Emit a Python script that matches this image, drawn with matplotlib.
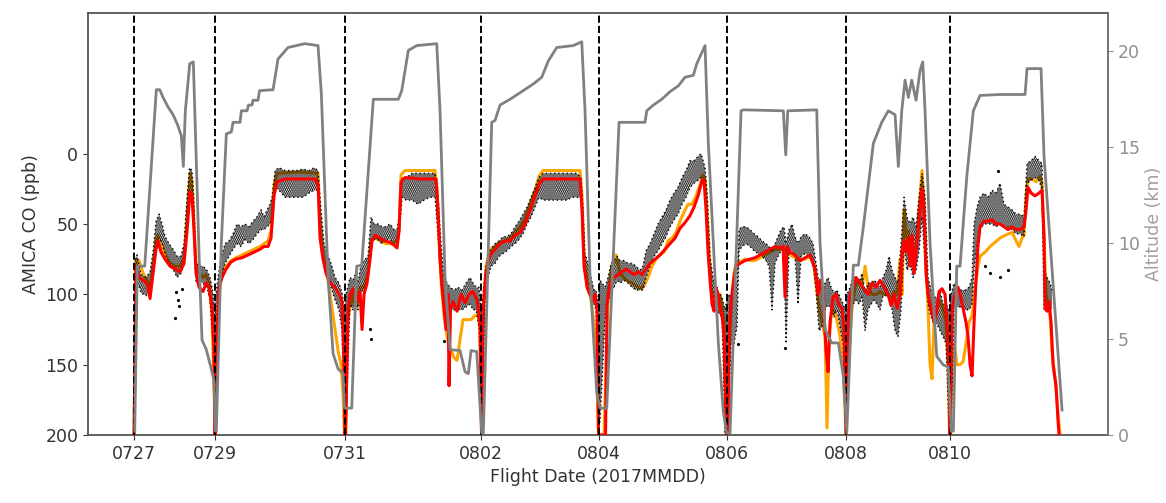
import numpy as np
import matplotlib
matplotlib.use('Agg')
import matplotlib.pyplot as plt

plt.rcParams['font.family'] = ['DejaVu Sans']
plt.rcParams['font.size'] = 12.5
plt.rcParams['hatch.linewidth'] = 1.2

# flight start positions on the x axis (sample index) and their labels
flight_pos = [134, 215, 345, 481, 599, 727, 846, 950]
flight_lab = ['0727', '0729', '0731', '0802', '0804', '0806', '0808', '0810']

# aircraft altitude (km)
alt = [
    (134.7, 0.2), (137.3, 8.8), (144.7, 8.8), (156.3, 18.0), (159.7, 18.0), (163, 17.6), (168, 17.1),
    (173, 16.7), (177.3, 16.2), (181.3, 15.6), (183.3, 14.0), (185.3, 16.9), (189.7, 19.35), (193.3, 19.45),
    (195.3, 16.0), (199.7, 8.25), (202, 4.95), (206.3, 4.45), (210.7, 3.55), (214, 2.85), (215.3, 0.2),
    (216.3, 0.2), (221.3, 10.0), (226.3, 15.7), (231.3, 15.8), (233, 16.3), (240, 16.3), (241.3, 16.9),
    (247, 16.9), (248.5, 17.2), (252, 17.2), (253, 17.45), (258, 17.45), (259.5, 17.95), (273, 18.0),
    (278, 19.6), (288, 20.2), (304.7, 20.4), (318, 20.3), (321.3, 17.8), (328, 8.25), (333, 4.25),
    (338, 3.45), (343, 3.2), (344.5, 1.4),
    (351.7, 1.4), (356.7, 8.8), (361.7, 8.85), (373.3, 17.5), (398.3, 17.5), (401.7, 17.95), (408.3, 20.05),
    (416.7, 20.3), (436.7, 20.4), (440, 16.9), (445, 8.25), (450, 4.45), (460, 4.4), (465, 3.3),
    (468.3, 3.2), (471, 4.4), (476.7, 4.35), (481.7, 0.1),
    (483.3, 0.1), (491.7, 16.3), (495, 16.4), (500, 17.2), (510, 17.5), (521.7, 17.9), (533.3, 18.3),
    (541.7, 18.65), (548.3, 19.5), (556.7, 20.2), (573.3, 20.3), (581.7, 20.5), (585, 16.9), (590, 8.25),
    (596.7, 2.2), (600, 1.4),
    (606.7, 1.4), (619, 16.3), (645, 16.3), (646.7, 16.9), (653.3, 17.2), (661.7, 17.5), (670, 17.9),
    (678.3, 18.2), (685, 18.65), (693.3, 18.75), (696.7, 19.35), (705, 20.3), (708.3, 15.2), (713.3, 10.0),
    (718.3, 4.8), (723.3, 1.2), (726.7, 0.1),
    (730, 0.1), (741, 16.9), (743.3, 16.95), (783.3, 16.9), (785.7, 14.6), (787.7, 16.9), (816.7, 16.95),
    (820, 10.0), (825, 5.5), (831.7, 4.8), (838.3, 4.8), (843.3, 3.05), (846.7, 0.1),
    (853.3, 8.85), (858.3, 8.85), (863.3, 10.85), (873.3, 15.2), (881.7, 16.3), (888.3, 16.9), (895, 16.7),
    (898.3, 14.0), (901.7, 16.9), (905, 18.5), (908.3, 17.6), (911.7, 18.5), (916, 17.45), (920, 19.0),
    (922.7, 19.45), (925, 16.9), (930, 10.0), (936.7, 4.1), (943.3, 3.65), (948.3, 3.55), (951, 0.2),
    (953.3, 0.2), (956.7, 8.8), (960, 8.8), (966.7, 13.45), (973.3, 16.9), (980, 17.7), (1000, 17.75),
    (1025, 17.75), (1027, 19.1), (1041, 19.1), (1044, 14.5), (1062, 1.3),
]

# AMICA CO observations: lower / upper edge of the scatter cloud (ppb)
obs = [
    (134.7, 75, 195), (137, 72, 90), (141, 86, 99), (146, 88, 101), (150, 84, 97), (153, 70, 84),
    (156, 48, 64), (159, 43, 60), (162, 50, 64), (165, 59, 71), (169, 64, 78), (173, 68, 82),
    (177, 73, 88), (181, 73, 85), (184, 64, 78), (187, 31, 52), (189.5, 10, 26), (192, 12, 31),
    (194, 36, 59), (196, 78, 92), (199, 80, 90), (203, 80, 92), (207, 83, 95), (210, 88, 104),
    (213, 99, 135), (214.5, 111, 196),
    (216, 100, 190), (218, 88, 111), (221, 74, 88), (225, 64, 78), (229, 62, 73), (233, 57, 68),
    (237, 50, 64), (241, 52, 66), (245, 50, 61), (249, 52, 64), (253, 48, 61), (257, 45, 57),
    (261, 40, 54), (264, 45, 54), (267, 40, 52), (270, 36, 50), (272, 31, 45), (275, 12, 24),
    (279, 10, 26), (285, 12, 31), (291, 12, 31), (297, 12, 31), (303, 11, 31), (309, 12, 28),
    (314, 10, 26), (318, 12, 26), (321, 40, 68), (324, 64, 78), (327, 71, 85), (331, 78, 95),
    (335, 88, 104), (339, 92, 111), (342, 99, 126), (344.5, 111, 196),
    (346, 100, 190), (350, 88, 107), (353, 90, 111), (356, 84, 104), (358, 92, 111), (361, 78, 97),
    (364, 76, 99), (368, 73, 88), (371, 45, 64), (374, 50, 61), (378, 50, 61), (382, 52, 64),
    (386, 52, 61), (390, 50, 61), (394, 54, 64), (397, 54, 64), (399, 45, 59), (402, 17, 31),
    (406, 17, 33), (412, 14, 33), (418, 14, 36), (424, 14, 33), (430, 14, 31), (435, 14, 31),
    (438, 31, 59), (441, 64, 92), (444, 88, 107), (447, 92, 111), (450, 95, 111), (454, 97, 111),
    (458, 95, 111), (462, 97, 111), (466, 92, 109), (470, 88, 107), (473, 92, 111), (476, 95, 111),
    (479, 95, 123), (481, 111, 196),
    (482, 110, 196), (485, 84, 107), (488, 73, 88), (491, 68, 80), (495, 64, 78), (499, 62, 73),
    (503, 59, 71), (507, 59, 69), (511, 57, 66), (515, 52, 64), (519, 48, 61), (523, 43, 57),
    (527, 38, 50), (531, 31, 45), (535, 24, 38), (539, 17, 31), (543, 14, 33), (549, 14, 33),
    (555, 14, 33), (561, 14, 33), (567, 14, 33), (572, 14, 31), (577, 14, 31), (581, 17, 31),
    (583, 40, 69), (585, 71, 88), (588, 78, 99), (591, 88, 101), (594, 97, 107), (596, 97, 111),
    (598, 107, 196),
    (600, 90, 190), (605, 95, 118), (608, 88, 107), (611, 78, 97), (614, 76, 95), (617, 73, 90),
    (620, 76, 92), (624, 76, 90), (628, 78, 92), (632, 78, 95), (636, 80, 97), (640, 83, 97),
    (643, 80, 97), (646, 69, 88), (650, 64, 80), (654, 57, 73), (658, 50, 69), (662, 45, 64),
    (666, 40, 59), (670, 33, 52), (674, 28, 47), (678, 24, 43), (682, 17, 36), (686, 12, 31),
    (690, 5, 24), (694, 5, 21), (698, 2, 19), (701, 0, 17), (703, 5, 21), (705, 10, 24),
    (707, 28, 52), (710, 73, 88), (713, 88, 101), (716, 97, 111), (719, 99, 114), (722, 102, 116),
    (725, 111, 199),
    (728, 100, 190), (731, 102, 135), (734, 92, 135), (737, 92, 123), (739, 54, 69), (742, 52, 66),
    (746, 52, 64), (750, 54, 66), (754, 57, 69), (758, 59, 71), (762, 62, 73), (766, 64, 76),
    (769, 66, 80), (772, 69, 111), (775, 64, 78), (778, 59, 73), (781, 54, 69), (784, 52, 69),
    (786, 64, 135), (789, 54, 69), (792, 50, 69), (795, 59, 73), (798, 64, 107), (801, 59, 73),
    (805, 57, 71), (809, 59, 73), (813, 64, 78), (816, 78, 97), (819, 92, 126), (822, 99, 123),
    (825, 92, 111), (828, 88, 107), (831, 95, 111), (834, 99, 116), (837, 97, 111), (840, 102, 123),
    (843, 107, 135), (845.5, 111, 199),
    (847, 100, 195), (850, 95, 116), (853, 88, 107), (856, 88, 104), (859, 92, 107), (862, 85, 102),
    (865, 99, 126), (868, 92, 111), (871, 92, 107), (874, 90, 104), (877, 92, 107), (880, 95, 111),
    (883, 88, 101), (886, 83, 101), (889, 73, 101), (892, 83, 111), (895, 88, 126), (898, 92, 130),
    (901, 64, 111), (904, 31, 64), (907, 45, 83), (910, 50, 78), (913, 45, 88), (916, 52, 83),
    (919, 31, 69), (922, 14, 45), (925, 31, 78), (928, 88, 107), (931, 97, 116), (934, 102, 121),
    (937, 102, 121), (940, 97, 126), (943, 107, 130), (946, 107, 135), (949, 111, 196),
    (951, 100, 196), (954, 92, 111), (957, 95, 109), (961, 97, 109), (965, 97, 111), (969, 95, 111),
    (972, 88, 107), (974, 50, 83), (977, 38, 64), (980, 31, 54), (984, 28, 50), (988, 31, 50),
    (992, 26, 50), (996, 28, 52), (1000, 21, 50), (1004, 36, 52), (1008, 38, 52), (1012, 40, 54),
    (1016, 43, 57), (1020, 43, 57), (1024, 45, 59), (1027, 7, 21), (1031, 5, 19), (1035, 2, 17),
    (1039, 5, 19), (1042, 7, 26), (1044, 83, 111), (1047, 88, 107), (1050, 92, 109), (1052, 97, 111),
]

# isolated observation points outside the main cloud
obs_out = [(175, 117), (176, 98), (178, 104), (179, 108), (182, 96), (370, 125), (371, 132),
           (444, 133), (738, 135), (785, 138), (985, 80), (990, 85), (1000, 88), (1008, 83), (998, 12)]

# model CO (red)
co_red = [
    (134, 200), (136, 80), (139, 88), (143, 90), (147, 92), (150, 103), (153, 85), (156, 68), (158, 62),
    (161, 70), (165, 75), (170, 80), (175, 82), (180, 84), (184, 78), (187, 55), (190, 27), (192, 30),
    (194, 55), (196, 85), (199, 95), (203, 98), (206, 92), (209, 95), (212, 110), (214, 140), (215, 200),
    (217, 130), (219, 95), (222, 88), (226, 82), (231, 77), (236, 75), (242, 74), (248, 72), (254, 70),
    (260, 68), (264, 66), (268, 66), (271, 60), (274, 30), (277, 20), (285, 18), (300, 18), (315, 18),
    (318, 22), (320, 60), (323, 75), (326, 85), (330, 92), (335, 95), (339, 100), (342, 105), (344, 150),
    (345, 200), (346, 185), (348, 110), (350, 100), (353, 96), (357, 105), (360, 98), (362, 125),
    (364, 100), (367, 92), (370, 75), (372, 62), (375, 58), (380, 60), (385, 62), (390, 63), (394, 65),
    (397, 67), (399, 55), (401, 20), (405, 17), (420, 18), (436, 18), (438, 40), (440, 75), (442, 95),
    (444, 110), (446, 125), (448, 100), (449, 165), (450.5, 110), (453, 105), (457, 112), (461, 100),
    (465, 106), (469, 100), (473, 98), (477, 104), (480, 120), (481.5, 200),
    (483, 110), (486, 85), (490, 72), (495, 68), (500, 64), (505, 62), (510, 62), (515, 58), (520, 56),
    (525, 50), (530, 40), (535, 30), (539, 22), (543, 18), (560, 18), (580, 18), (582, 40), (584, 80),
    (587, 95), (590, 100), (593, 105), (595, 100), (597, 110), (598.5, 200),
    (605.5, 200), (607, 107), (610, 92), (614, 88), (618, 86), (622, 84), (626, 82), (630, 84), (634, 86),
    (638, 84), (642, 86), (646, 82), (650, 78), (655, 75), (660, 72), (665, 68), (670, 64), (675, 60),
    (680, 53), (685, 49), (690, 44), (694, 38), (698, 30), (702, 19), (704, 19), (706, 40), (708, 70),
    (710, 90), (712, 107), (714, 112), (716, 95), (718, 100), (720, 110), (722, 115), (724, 130),
    (726.5, 200),
    (728, 200), (729, 130), (731, 105), (734, 88), (736, 80), (740, 78), (745, 76), (750, 75), (755, 74),
    (760, 72), (765, 70), (770, 68), (775, 66), (780, 67), (783, 66), (785, 102), (787, 66), (790, 70),
    (795, 72), (800, 76), (805, 74), (810, 72), (813, 78), (815, 82), (818, 100), (820, 90), (823, 100),
    (826, 140), (828, 155), (830, 120), (833, 102), (836, 100), (839, 108), (842, 110), (844, 125),
    (846, 200),
    (848, 120), (850, 100), (853, 95), (856, 88), (860, 92), (864, 96), (868, 100), (872, 92), (876, 95),
    (880, 90), (884, 95), (888, 100), (891, 108), (894, 100), (897, 110), (900, 100), (902, 70), (904, 62),
    (906, 70), (908, 60), (910, 80), (912, 58), (914, 85), (916, 70), (918, 55), (920, 40), (922, 25),
    (924, 40), (926, 85), (928, 100), (931, 110), (934, 120), (937, 110), (939, 98), (942, 96), (945, 100),
    (947, 120), (949, 150), (950, 200),
    (952, 110), (955, 100), (958, 95), (960, 100), (963, 110), (966, 120), (968, 130), (970, 150),
    (972, 158), (974, 120), (976, 90), (978, 65), (980, 52), (984, 48), (988, 48), (992, 47), (996, 50),
    (1000, 50), (1004, 52), (1008, 54), (1012, 52), (1016, 54), (1020, 54), (1024, 52), (1026, 40),
    (1028, 24), (1031, 28), (1035, 30), (1039, 28), (1042, 26), (1044, 60), (1045, 110), (1047, 112),
    (1049, 105), (1051, 120), (1053, 150), (1056, 165), (1058, 190), (1059, 200),
]

# model CO (orange)
co_orange = [
    (134, 200), (136, 76), (139, 76), (143, 85), (147, 90), (150, 97), (153, 80), (156, 62), (158, 58),
    (161, 64), (165, 72), (170, 78), (175, 80), (180, 80), (184, 74), (187, 45), (190, 14), (192, 20),
    (194, 50), (196, 80), (199, 85), (203, 88), (206, 86), (209, 92), (212, 115), (214, 170), (215.5, 200),
    (217, 140), (219, 100), (222, 85), (226, 80), (231, 76), (236, 74), (242, 72), (248, 70), (254, 68),
    (260, 66), (264, 64), (268, 62), (271, 55), (274, 22), (277, 14), (300, 13), (318, 14), (320, 50),
    (323, 72), (326, 82), (330, 100), (334, 120), (338, 140), (341, 150), (343, 170), (344.5, 200),
    (346, 200), (347, 120), (350, 110), (353, 100), (356, 110), (360, 95), (364, 95), (368, 85), (371, 62),
    (375, 60), (380, 62), (386, 64), (392, 64), (397, 62), (399, 55), (401, 15), (405, 12), (420, 12),
    (435, 12), (437, 25), (439, 60), (441, 90), (444, 115), (447, 130), (450, 138), (454, 145), (457, 147),
    (460, 132), (463, 118), (467, 118), (471, 118), (475, 115), (478, 115), (480, 125), (481.5, 200),
    (483, 115), (486, 80), (490, 68), (495, 66), (500, 63), (505, 62), (510, 60), (515, 56), (520, 52),
    (525, 46), (530, 36), (535, 26), (539, 16), (543, 12), (560, 12), (580, 12), (582, 30), (584, 75),
    (587, 90), (590, 100), (593, 115), (596, 140), (598.5, 200),
    (604, 200), (606, 150), (608, 100), (612, 80), (616, 72), (620, 85), (626, 90), (632, 92), (636, 94),
    (640, 96), (644, 94), (648, 88), (652, 80), (656, 75), (660, 72), (664, 70), (668, 62), (672, 60),
    (676, 56), (680, 48), (685, 40), (688, 36), (692, 36), (696, 30), (700, 22), (703, 15), (705, 18),
    (707, 40), (709, 70), (711, 95), (714, 105), (717, 110), (720, 100), (722, 108), (724, 120), (726, 200),
    (728, 200), (729, 140), (731, 110), (734, 85), (736, 78), (740, 77), (745, 75), (750, 76), (755, 76),
    (760, 74), (765, 72), (770, 70), (775, 68), (780, 68), (785, 68), (790, 72), (795, 74), (800, 76),
    (805, 75), (810, 73), (814, 80), (818, 105), (822, 120), (825, 130), (827, 195), (829, 130), (832, 110),
    (836, 115), (840, 130), (843, 150), (846, 200),
    (848, 160), (850, 130), (852, 110), (855, 95), (858, 90), (862, 95), (865, 80), (868, 95), (872, 100),
    (876, 100), (880, 98), (884, 100), (888, 100), (891, 105), (894, 98), (897, 100), (900, 75), (902, 100),
    (904, 40), (906, 60), (908, 55), (910, 70), (912, 60), (914, 80), (916, 65), (918, 50), (920, 30),
    (922, 12), (924, 35), (926, 80), (928, 110), (930, 150), (932, 160), (934, 120), (937, 110), (940, 105),
    (943, 110), (946, 120), (948, 150), (949.5, 200),
    (950.5, 200), (952, 150), (954, 135), (957, 150), (960, 150), (963, 148), (966, 135), (969, 120),
    (972, 115), (975, 95), (978, 80), (980, 73), (985, 70), (990, 66), (995, 63), (1000, 60), (1005, 58),
    (1012, 56), (1016, 62), (1019, 66), (1022, 60), (1024, 58), (1026, 30), (1028, 18), (1032, 18),
    (1036, 20), (1040, 16), (1042, 20), (1044, 60), (1046, 100), (1048, 108), (1050, 115), (1052, 140),
    (1055, 160), (1058, 185), (1060, 200),
]

alt_x, alt_km = zip(*alt)
obs_x, obs_lo, obs_hi = zip(*obs)
out_x, out_co = zip(*obs_out)
red_x, red_y = zip(*co_red)
org_x, org_y = zip(*co_orange)

fig = plt.figure(figsize=(11.66, 5.03), dpi=100)
ax = fig.add_axes([0.0755, 0.1352, 0.8748, 0.839])

ax.plot(org_x, org_y, color='orange', linewidth=2.2, zorder=2)
# observation cloud: dotted hatch between the read edges, plus dotted edges
ax.fill_between(obs_x, obs_lo, obs_hi, facecolor='none', edgecolor='black',
                hatch='........', linewidth=0, zorder=3)
ax.plot(obs_x, obs_lo, color='black', linestyle=(0, (1, 2)), linewidth=1.0, zorder=3)
ax.plot(obs_x, obs_hi, color='black', linestyle=(0, (1, 2)), linewidth=1.0, zorder=3)
ax.plot(out_x, out_co, 'k.', markersize=2.5, zorder=3)
ax.plot(red_x, red_y, color='red', linewidth=2.2, zorder=4)
for p in flight_pos:
    ax.axvline(p, color='black', linestyle='--', linewidth=1.4, zorder=5)

ax.set_xlim(88, 1108)
ax.set_ylim(200, -100)
ax.set_yticks([0, 50, 100, 150, 200])
ax.set_xticks(flight_pos)
ax.set_xticklabels(flight_lab)
ax.set_xlabel('Flight Date (2017MMDD)', color='#333333')
ax.set_ylabel('AMICA CO (ppb)', color='#333333')
ax.tick_params(colors='#333333')
for s in ax.spines.values():
    s.set_color('#555555')
    s.set_linewidth(1.3)

ax2 = ax.twinx()
ax2.plot(alt_x, alt_km, color='gray', linewidth=2.0)
ax2.set_ylim(0, 22)
ax2.set_yticks([0, 5, 10, 15, 20])
ax2.set_ylabel('Altitude (km)', color='#a0a0a0')
ax2.tick_params(axis='y', colors='#909090')
ax2.spines['right'].set_color('#777777')
ax2.spines['right'].set_linewidth(1.3)
for k in ['left', 'top', 'bottom']:
    ax2.spines[k].set_visible(False)

fig.savefig('out.png', dpi=100)
